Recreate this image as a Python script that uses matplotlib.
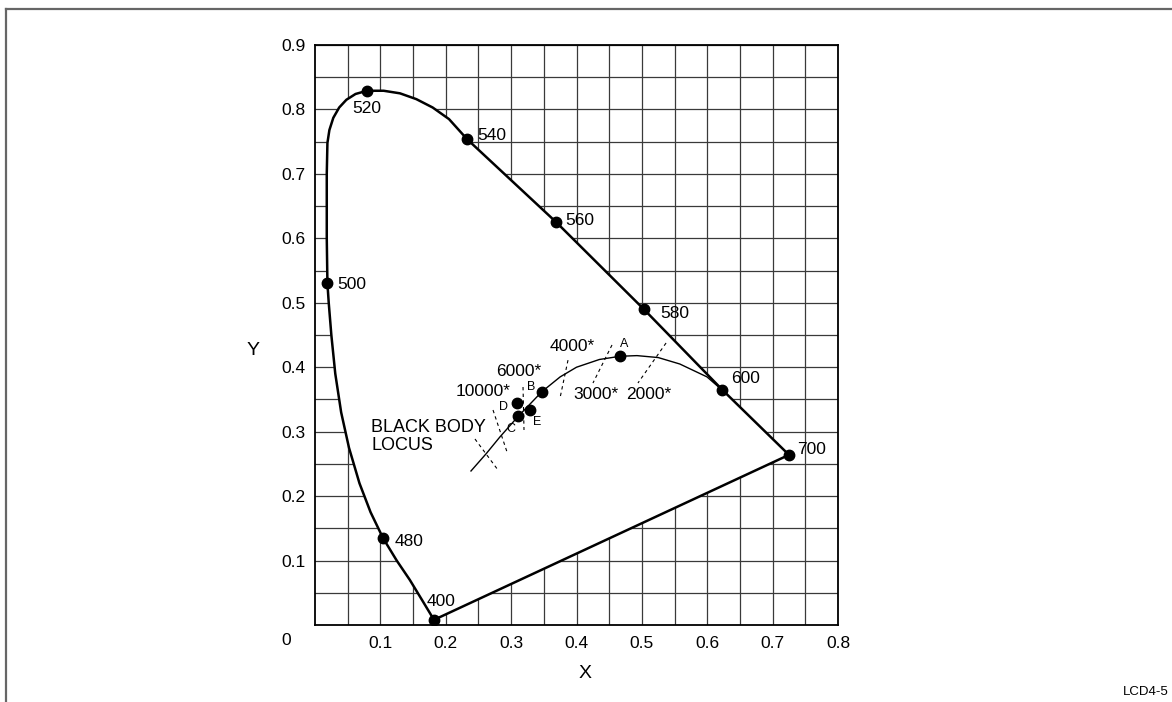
import numpy as np
import matplotlib
matplotlib.use("Agg")
import matplotlib.pyplot as plt
from matplotlib.lines import Line2D

plt.rcParams["font.family"] = ["Liberation Sans", "DejaVu Sans"]

# --- spectral locus ---
locus_x = [0.182, 0.163, 0.145, 0.125, 0.104, 0.085, 0.068, 0.052, 0.040, 0.031,
           0.025, 0.021, 0.019, 0.018, 0.018, 0.019, 0.022, 0.028, 0.037, 0.048,
           0.062, 0.0795, 0.105, 0.130, 0.155, 0.180, 0.205, 0.2325, 0.369, 0.503,
           0.623, 0.725]
locus_y = [0.008, 0.040, 0.070, 0.100, 0.135, 0.175, 0.220, 0.275, 0.330, 0.390,
           0.450, 0.500, 0.530, 0.600, 0.700, 0.748, 0.768, 0.787, 0.803, 0.815,
           0.824, 0.829, 0.829, 0.825, 0.816, 0.803, 0.785, 0.754, 0.625, 0.490,
           0.365, 0.264]

# marked wavelengths
wl_labels = ["400", "480", "500", "520", "540", "560", "580", "600", "700"]
wl_x = [0.182, 0.104, 0.019, 0.0795, 0.2325, 0.369, 0.503, 0.623, 0.725]
wl_y = [0.008, 0.135, 0.530, 0.829, 0.754, 0.625, 0.490, 0.365, 0.264]
wl_text_x = [0.193, 0.122, 0.034, 0.0795, 0.248, 0.383, 0.528, 0.636, 0.737]
wl_text_y = [0.036, 0.130, 0.528, 0.801, 0.759, 0.628, 0.484, 0.383, 0.272]
wl_ha = ["center", "left", "left", "center", "left", "left", "left", "left", "left"]

# black body locus
bb_x = [0.2386, 0.262, 0.283, 0.311, 0.330, 0.347, 0.375, 0.400, 0.435, 0.4666,
        0.4925, 0.525, 0.558, 0.5996, 0.6226]
bb_y = [0.239, 0.266, 0.292, 0.324, 0.344, 0.362, 0.385, 0.400, 0.412, 0.417,
        0.418, 0.415, 0.405, 0.385, 0.3647]

# standard illuminants
ill_names = ["A", "B", "C", "D", "E"]
ill_x = [0.4666, 0.347, 0.311, 0.309, 0.329]
ill_y = [0.417, 0.362, 0.324, 0.344, 0.334]
ill_text_x = [0.4727, 0.330, 0.300, 0.2876, 0.3396]
ill_text_y = [0.436, 0.369, 0.304, 0.338, 0.315]

# colour temperature isotherms (dashed)
iso_labels = ["10000*", "6000*", "4000*", "3000*", "2000*"]
iso_text_x = [0.257, 0.312, 0.393, 0.430, 0.511]
iso_text_y = [0.3616, 0.3926, 0.4314, 0.357, 0.357]
iso_lines = [
    ((0.2447, 0.2799), (0.2886, 0.2405)),
    ((0.2723, 0.2937), (0.3336, 0.2685)),
    ((0.3182, 0.3197), (0.3693, 0.3026)),
    ((0.3870, 0.3748), (0.4110, 0.3523)),
    ((0.4543, 0.4252), (0.4345, 0.3755)),
    ((0.5370, 0.4940), (0.4376, 0.3755)),
]

fig = plt.figure(figsize=(11.72, 7.02), dpi=100)
ax = fig.add_axes([315 / 1172, 1 - 625 / 702, 523 / 1172, 580 / 702])

ax.set_xlim(0, 0.8)
ax.set_ylim(0, 0.9)
ax.set_xticks(np.arange(1, 9) / 10)
ax.set_xticklabels([f"{v / 10:.1f}" for v in range(1, 9)])
ax.set_yticks(np.arange(1, 10) / 10)
ax.set_yticklabels([f"{v / 10:.1f}" for v in range(1, 10)])
ax.set_xticks(np.arange(1, 16, 2) / 20, minor=True)
ax.set_yticks(np.arange(1, 18, 2) / 20, minor=True)
ax.tick_params(which="both", length=0, labelsize=12.5)
ax.tick_params(axis="x", pad=8)
ax.tick_params(axis="y", pad=7)
ax.grid(True, which="both", color="#3a3a3a", linewidth=0.9)
ax.set_axisbelow(True)
for sp in ax.spines.values():
    sp.set_linewidth(1.3)

# locus outline + purple line
ax.fill(locus_x, locus_y, color="white", zorder=2)
ax.plot(locus_x, locus_y, color="black", lw=1.8, solid_joinstyle="round", zorder=3)
ax.plot([locus_x[0], locus_x[-1]], [locus_y[0], locus_y[-1]], color="black", lw=1.8, zorder=3)

ax.plot(wl_x, wl_y, "o", color="black", ms=7.5, zorder=5)
for lab, tx, ty, ha in zip(wl_labels, wl_text_x, wl_text_y, wl_ha):
    ax.text(tx, ty, lab, ha=ha, va="center", fontsize=12.5, zorder=6)

# black body locus
ax.plot(bb_x, bb_y, color="black", lw=1.0, zorder=4)
for (xs, ys) in iso_lines:
    ax.plot(xs, ys, color="black", lw=0.8, dashes=(3, 3), zorder=4)
for lab, tx, ty in zip(iso_labels, iso_text_x, iso_text_y):
    ax.text(tx, ty, lab, ha="center", va="center", fontsize=12.5, zorder=6)

ax.plot(ill_x, ill_y, "o", color="black", ms=7.5, zorder=5)
for lab, tx, ty in zip(ill_names, ill_text_x, ill_text_y):
    ax.text(tx, ty, lab, ha="center", va="center", fontsize=9, zorder=6)

ax.text(0.0857, 0.2925, "BLACK BODY\nLOCUS", ha="left", va="center",
        fontsize=13, linespacing=1.15, zorder=6)

# shared origin label and axis titles
ax.text(-0.055, -0.026, "0", transform=ax.transAxes, ha="center", va="center", fontsize=12.5)
ax.text(0.516, -0.083, "X", transform=ax.transAxes, ha="center", va="center", fontsize=14)
ax.text(-0.119, 0.474, "Y", transform=ax.transAxes, ha="center", va="center", fontsize=14)

# page frame (left and top edges)
fig.add_artist(Line2D([6 / 1172, 6 / 1172], [0, 1 - 9 / 702], color="#666666", lw=1.6))
fig.add_artist(Line2D([6 / 1172, 1], [1 - 9 / 702, 1 - 9 / 702], color="#666666", lw=1.6))
fig.text(1 - 3 / 1172, 1 - 686 / 702, "LCD4-5", ha="right", va="top", fontsize=9.5)

fig.savefig("out.png", dpi=100)
